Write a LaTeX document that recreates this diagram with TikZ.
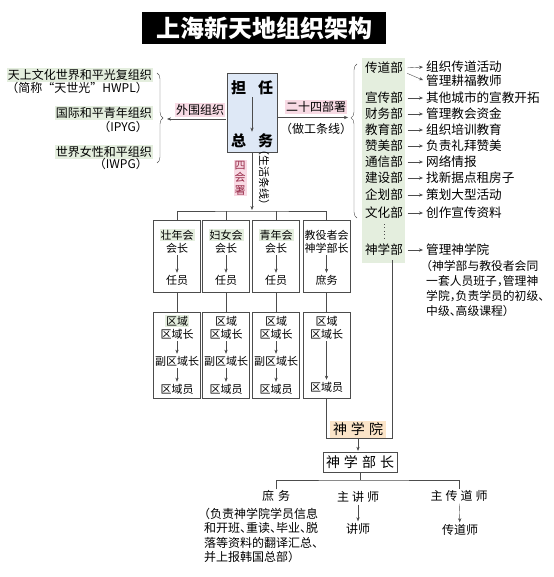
\documentclass[tikz,border=0pt]{standalone}
\usepackage{fontspec}
\setmainfont{Noto Sans CJK SC}
\newfontfamily\halfpunct[RawFeature=+halt]{Noto Sans CJK SC}
\usetikzlibrary{arrows.meta,decorations.pathreplacing,calc}
\definecolor{leafgreen}{RGB}{228,238,222}
\definecolor{tagpink}{RGB}{248,218,228}
\definecolor{chiefblue}{RGB}{222,232,246}
\definecolor{schoolorange}{RGB}{251,228,200}
\definecolor{sealred}{RGB}{150,40,70}
\colorlet{linegray}{black!70}
\begin{document}
\begin{tikzpicture}[x=1pt,y=-1pt,
    every node/.style={font=\fontsize{12}{14}\selectfont,inner sep=1pt},
    tagbox/.style={fill=tagpink},
    namebox/.style={fill=leafgreen},
    small/.style={font=\fontsize{11}{13}\selectfont},
    wide/.style={font=\fontsize{14}{16}\selectfont},
    deptfont/.style={font=\fontsize{12.6}{14}\selectfont},
    unitbox/.style={draw=linegray,fill=white,minimum width=47pt,inner sep=0pt},
    arr/.style={-{Stealth[length=4pt,width=3.2pt]},linegray,shorten >=1pt,shorten <=1pt},
    deptarr/.style={arr,shorten <=3.5pt,shorten >=2pt},
    conn/.style={draw=linegray}]
  \useasboundingbox (0,0) rectangle (553,577);
  \node[fill=black,text=white,minimum width=244pt,minimum height=32pt,font=\fontsize{24}{26}\selectfont\bfseries] (title) at (264,28) {上海新天地组织架构};
  % outer organisations
  \node[namebox,anchor=east] (o1) at (153,75) {天上文化世界和平光复组织};
  \node[anchor=east] (o1b) at (149,88) {（简称“天世光”HWPL）};
  \node[namebox,anchor=east] (o2) at (153,113) {国际和平青年组织};
  \node[anchor=east] (o2b) at (149,127) {（IPYG）};
  \node[namebox,anchor=east] (o3) at (153,152) {世界女性和平组织};
  \node[anchor=east] (o3b) at (149,164) {（IWPG）};
  \draw[linegray,decorate,decoration={brace,amplitude=6pt}] (157,73) -- (157,163);
  \coordinate (lt) at (166,119);
  % chief
  \node[draw=linegray,fill=chiefblue,minimum width=50pt,minimum height=79pt] (chief) at (252,112.5) {};
  \node[font=\fontsize{15}{17}\selectfont\bfseries] (dan) at (252,88) {担\hspace{12pt}任};
  \node[font=\fontsize{15}{17}\selectfont\bfseries] (zong) at (252,141) {总\hspace{12pt}务};
  \draw[arr] (dan) -- (zong);
  \draw[arr] ($(chief.west)+(0,6.5)$) -- (lt);
  \node[tagbox] (outer) at (200,110) {外围组织};
  \coordinate (rt) at (349,117.5);
  \draw[arr] ($(chief.east)+(0,5)$) -- (rt);
  \node[tagbox] (twentyfour) at (316,107) {二十四部署};
  \node (worklines) at (316,129) {（做工条线）};
  \coordinate (bus) at (252,211);
  \draw[arr] (chief.south) -- (bus);
  \node[tagbox,text=sealred,align=center,font=\fontsize{11}{12.5}\selectfont] (four) at (240,178) {四\\会\\署};
  \node[rotate=-90,small] (life) at (264,178) {（生活条线）};
  % four associations
  \node[unitbox,minimum height=72pt] (u1) at (177,256) {};
  \node[unitbox,minimum height=72pt] (u2) at (226,256) {};
  \node[unitbox,minimum height=72pt] (u3) at (276,256) {};
  \node[unitbox,minimum height=72pt] (u4) at (326.5,256) {};
  \draw[conn] (u1.north) |- (bus) -| (u4.north);
  \draw[conn] (u2.north) -- (u2.north |- bus);
  \draw[conn] (u3.north) -- (u3.north |- bus);
  \node[small,namebox] (u1a) at (177,235) {壮年会};
  \node[small] (u1b) at (177,248) {会长};
  \node[small] (u1c) at (177,280) {任员};
  \draw[arr] (u1b) -- (u1c);
  \node[small,namebox] (u2a) at (226,235) {妇女会};
  \node[small] (u2b) at (226,248) {会长};
  \node[small] (u2c) at (226,280) {任员};
  \draw[arr] (u2b) -- (u2c);
  \node[small,namebox] (u3a) at (276,235) {青年会};
  \node[small] (u3b) at (276,248) {会长};
  \node[small] (u3c) at (276,280) {任员};
  \draw[arr] (u3b) -- (u3c);
  \node[small] (u4a) at (326.5,235) {教役者会};
  \node[small] (u4b) at (326.5,248) {神学部长};
  \node[small] (u4c) at (326.5,280) {庶务};
  \draw[arr] (u4b) -- (u4c);
  % districts
  \node[unitbox,minimum height=86pt] (l1) at (177,355) {};
  \node[unitbox,minimum height=86pt] (l2) at (226,355) {};
  \node[unitbox,minimum height=86pt] (l3) at (276,355) {};
  \node[unitbox,minimum height=86pt] (l4) at (326.5,355) {};
  \draw[conn] (u1) -- (l1);
  \draw[conn] (u2) -- (l2);
  \draw[conn] (u3) -- (l3);
  \draw[conn] (u4) -- (l4);
  \node[small,namebox] (l1a) at (177,321) {区域};
  \node[small] (l1b) at (177,334) {区域长};
  \node[small] (l1c) at (177,361) {副区域长};
  \node[small] (l1d) at (177,389) {区域员};
  \draw[arr] (l1b) -- (l1c);
  \draw[arr] (l1c) -- (l1d);
  \node[small] (l2a) at (226,321) {区域};
  \node[small] (l2b) at (226,334) {区域长};
  \node[small] (l2c) at (226,361) {副区域长};
  \node[small] (l2d) at (226,389) {区域员};
  \draw[arr] (l2b) -- (l2c);
  \draw[arr] (l2c) -- (l2d);
  \node[small] (l3a) at (276,321) {区域};
  \node[small] (l3b) at (276,334) {区域长};
  \node[small] (l3c) at (276,361) {副区域长};
  \node[small] (l3d) at (276,389) {区域员};
  \draw[arr] (l3b) -- (l3c);
  \draw[arr] (l3c) -- (l3d);
  \node[small] (l4a) at (326.5,321) {区域};
  \node[small] (l4b) at (326.5,334) {区域长};
  \node[small] (l4d) at (326.5,387) {区域员};
  \draw[arr] (l4b) -- (l4d);
  % departments
  \draw[linegray,decorate,decoration={brace,amplitude=6pt,aspect=0.65}] (357,218) -- (357,64);
  \node[fill=leafgreen,minimum width=43pt,minimum height=205pt] (strip) at (383.5,160.5) {};
  \node[deptfont] (d1) at (384,68) {传道部};
  \node[deptfont] (d2) at (384,98) {宣传部};
  \node[deptfont] (d3) at (384,114) {财务部};
  \node[deptfont] (d4) at (384,130) {教育部};
  \node[deptfont] (d5) at (384,146) {赞美部};
  \node[deptfont] (d6) at (384,162) {通信部};
  \node[deptfont] (d7) at (384,178) {建设部};
  \node[deptfont] (d8) at (384,195) {企划部};
  \node[deptfont] (d9) at (384,213) {文化部};
  \node[deptfont] (d10) at (384,250) {神学部};
  \draw[linegray,line width=0.8pt,dash pattern=on 0.8pt off 2.6pt,shorten >=4pt,shorten <=4pt] (d9) -- (d10);
  \node[deptfont,anchor=west] (t1) at (425,67) {组织传道活动};
  \node[deptfont,anchor=west] (t1b) at (425,81) {管理耕福教师};
  \node[deptfont,anchor=west] (t2) at (425,98) {其他城市的宣教开拓};
  \node[deptfont,anchor=west] (t3) at (425,114) {管理教会资金};
  \node[deptfont,anchor=west] (t4) at (425,130) {组织培训教育};
  \node[deptfont,anchor=west] (t5) at (425,146) {负责礼拜赞美};
  \node[deptfont,anchor=west] (t6) at (425,162) {网络情报};
  \node[deptfont,anchor=west] (t7) at (425,178) {找新据点租房子};
  \node[deptfont,anchor=west] (t8) at (425,195) {策划大型活动};
  \node[deptfont,anchor=west] (t9) at (425,213) {创作宣传资料};
  \node[deptfont,anchor=west] (t10) at (425,250) {管理神学院};
  \node[anchor=north west,align=left,font=\halfpunct\fontsize{11.8}{15}\selectfont] (t10b) at (425,259) {（神学部与教役者会同\\一套人员班子，管理神\\学院，负责学员的初级、\\中级、高级课程）};
  \draw[deptarr] (d1.east) -- (t1.west);
  \draw[deptarr] ($(d1.east)+(0,4)$) -- (t1b.west);
  \draw[deptarr] (d2.east) -- (t2.west);
  \draw[deptarr] (d3.east) -- (t3.west);
  \draw[deptarr] (d4.east) -- (t4.west);
  \draw[deptarr] (d5.east) -- (t5.west);
  \draw[deptarr] (d6.east) -- (t6.west);
  \draw[deptarr] (d7.east) -- (t7.west);
  \draw[deptarr] (d8.east) -- (t8.west);
  \draw[deptarr] (d9.east) -- (t9.west);
  \draw[deptarr] (d10.east) -- (t10.west);
  % seminary
  \coordinate (sxd) at (392,260);
  \node[fill=schoolorange,minimum width=56pt,minimum height=17pt,wide] (school) at (358,429) {神\hspace{4pt}学\hspace{4pt}院};
  \draw[conn] (l4.south) |- (sxd |- school.south) -- (sxd);
  \node[draw=linegray,minimum width=74pt,minimum height=20pt,wide] (head) at (360,462) {神\hspace{4pt}学\hspace{4pt}部\hspace{4pt}长};
  \draw[arr] (school.south) -- (school.south |- head.north);
  \coordinate (fork) at (360,480);
  \draw[conn] (head.south) -- (fork);
  \node (shu) at (276,496) {庶\hspace{4pt}务};
  \node (zjs) at (358,497) {主\hspace{3pt}讲\hspace{3pt}师};
  \node (zcd) at (459,496) {主\hspace{3pt}传\hspace{3pt}道\hspace{3pt}师};
  \draw[conn] (shu.north) |- (fork) -| (zcd.north);
  \node (js) at (358,529) {讲师};
  \node (cds) at (460,530) {传道师};
  \draw[arr] (zjs) -- (js);
  \draw[arr] (zcd) -- (cds);
  \node[anchor=north west,align=left,font=\halfpunct\fontsize{12}{14.3}\selectfont] (shunote) at (203,507) {（负责神学院学员信息\\和开班、重读、毕业、脱\\落等资料的翻译汇总、\\并上报韩国总部）};
\end{tikzpicture}
\end{document}
